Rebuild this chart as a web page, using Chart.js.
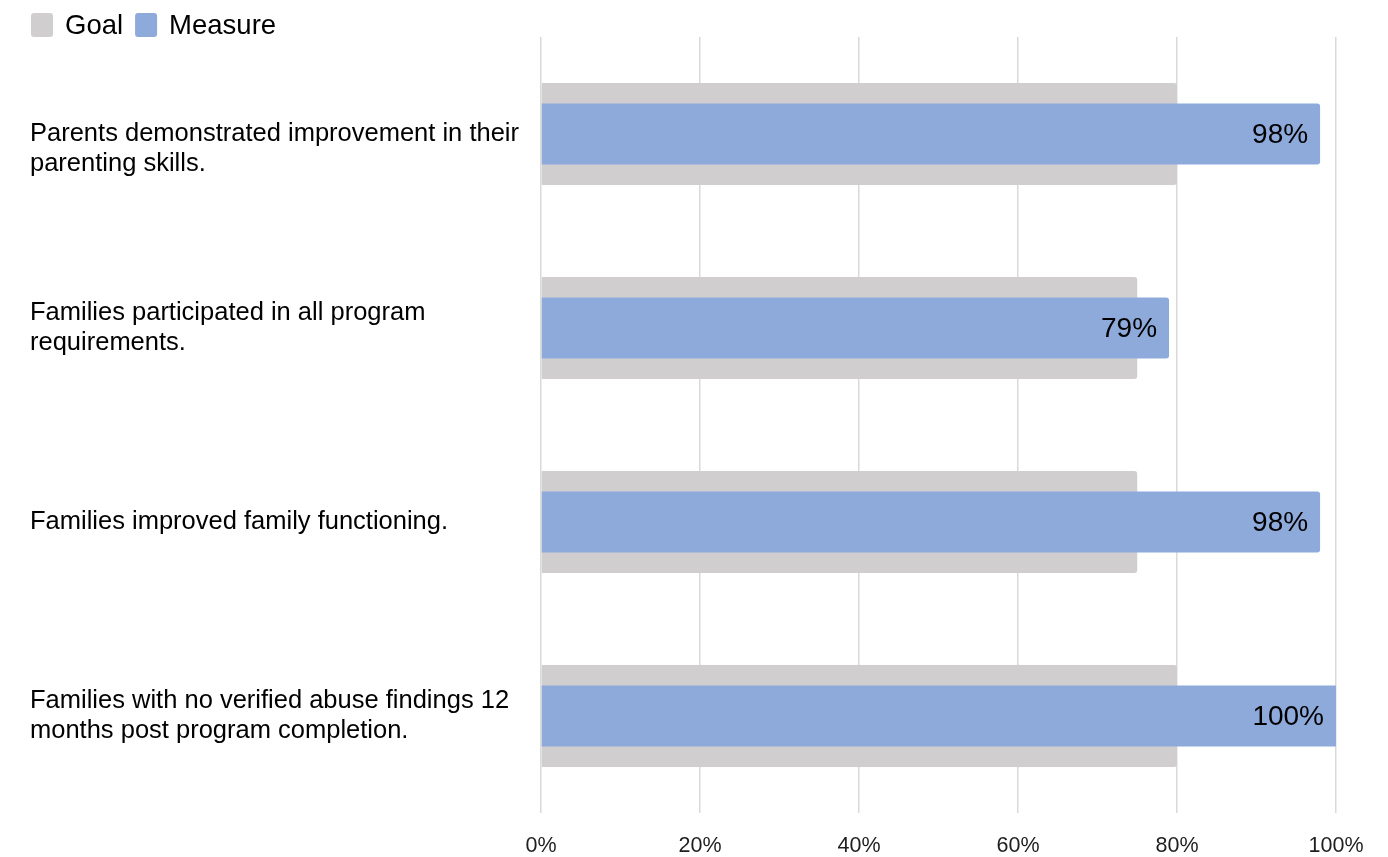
<!DOCTYPE html>
<html>
<head>
<meta charset="utf-8">
<title>Program outcomes: goal vs measure</title>
<script src="https://cdn.jsdelivr.net/npm/chart.js@4.4.1/dist/chart.umd.min.js"></script>
<style>
  html, body { margin: 0; padding: 0; background: #ffffff; }
  #wrap { width: 1388px; height: 857px; position: relative; }
</style>
</head>
<body>
<div id="wrap"><canvas id="chart"></canvas></div>
<script>
// Outcome statements (multi-line category labels; the first one carries a leading line break)
const categories = [
  ['', 'Parents demonstrated improvement in their', 'parenting skills.'],
  ['Families participated in all program', 'requirements.'],
  ['Families improved family functioning.'],
  ['Families with no verified abuse findings 12', 'months post program completion.']
];

// Target percentage for each outcome
const goalValues = [80, 75, 75, 80];

// Achieved percentage for each outcome
const measureValues = [98, 79, 98, 100];

// Percent axis tick values
const tickValues = [0, 20, 40, 60, 80, 100];

const seriesNames = ['Goal', 'Measure'];
const seriesColors = ['#D0CECE', '#8EAADB'];

const FONT = '"Liberation Sans", Arial, sans-serif';

// Legend drawn in the top-left corner of the canvas
const cornerLegend = {
  id: 'cornerLegend',
  afterDraw(chart) {
    const ctx = chart.ctx;
    ctx.save();
    ctx.font = '27.5px ' + FONT;
    ctx.textBaseline = 'middle';
    ctx.textAlign = 'left';
    let x = 31;
    const boxW = 22, boxH = 24, boxY = 13;
    seriesNames.forEach((name, i) => {
      ctx.fillStyle = seriesColors[i];
      ctx.beginPath();
      ctx.roundRect(x, boxY, boxW, boxH, 3);
      ctx.fill();
      const tx = x + boxW + 12;
      ctx.fillStyle = '#000000';
      ctx.fillText(name, tx, boxY + boxH / 2 + 1);
      x = tx + ctx.measureText(name).width + 12;
    });
    ctx.restore();
  }
};

// Value labels at the inner end of each Measure bar
const endLabels = {
  id: 'endLabels',
  afterDatasetsDraw(chart) {
    const ctx = chart.ctx;
    const dsIndex = 1;
    const meta = chart.getDatasetMeta(dsIndex);
    ctx.save();
    ctx.font = '28px ' + FONT;
    ctx.fillStyle = '#000000';
    ctx.textAlign = 'right';
    ctx.textBaseline = 'middle';
    meta.data.forEach((bar, i) => {
      const v = chart.data.datasets[dsIndex].data[i];
      ctx.fillText(v + '%', bar.x - 12, bar.y + 1);
    });
    ctx.restore();
  }
};

new Chart(document.getElementById('chart'), {
  type: 'bar',
  data: {
    labels: categories,
    datasets: [
      {
        label: seriesNames[0],
        data: goalValues,
        backgroundColor: seriesColors[0],
        grouped: false,
        order: 1,
        categoryPercentage: 1,
        barPercentage: 0.525,
        borderRadius: 3
      },
      {
        label: seriesNames[1],
        data: measureValues,
        backgroundColor: seriesColors[1],
        grouped: false,
        order: 0,
        categoryPercentage: 1,
        barPercentage: 0.315,
        borderRadius: (c) => (c.raw >= 100 ? 0 : 3)
      }
    ]
  },
  options: {
    indexAxis: 'y',
    responsive: true,
    maintainAspectRatio: false,
    animation: false,
    layout: { padding: { left: 30, right: 52, top: 37, bottom: 0 } },
    plugins: {
      legend: { display: false },
      tooltip: { enabled: false }
    },
    scales: {
      x: {
        min: 0,
        max: 100,
        afterBuildTicks(scale) {
          scale.ticks = tickValues.map(v => ({ value: v }));
        },
        afterFit(scale) { scale.height = 44; },
        ticks: {
          callback: (v) => v + '%',
          color: '#1f1f1f',
          padding: 20,
          maxRotation: 0,
          font: { family: FONT, size: 21.5 }
        },
        grid: { color: '#d9d9d9', lineWidth: 1.5, drawTicks: false },
        border: { display: false }
      },
      y: {
        afterFit(scale) {
          scale.width = 511;
          scale.paddingTop = 0;
          scale.paddingBottom = 0;
        },
        ticks: {
          crossAlign: 'far',
          color: '#000000',
          padding: 20,
          font: { family: FONT, size: 25.5, lineHeight: 1.18 }
        },
        grid: { display: false, drawTicks: false },
        border: { display: false }
      }
    }
  },
  plugins: [cornerLegend, endLabels]
});
</script>
</body>
</html>
